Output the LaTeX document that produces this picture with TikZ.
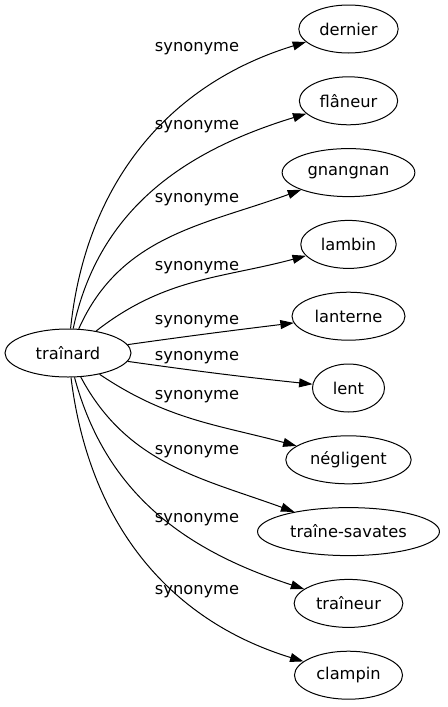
\documentclass[tikz,border=0pt]{standalone}
\usepackage{fontspec}
\setmainfont{DejaVu Sans}
\usetikzlibrary{shapes.geometric,arrows.meta,positioning}
\tikzset{>={Triangle[length=10pt,width=6.7pt]}}

\begin{document}
\begin{tikzpicture}[x=0.75pt,y=0.75pt,
    word/.style={draw,ellipse,line width=0.75pt,minimum width=54pt,minimum height=36pt,inner xsep=4.5pt,inner ysep=0pt,font=\fontsize{12.2}{14}\selectfont},
    syn/.style={inner sep=0pt,font=\fontsize{12.2}{14}\selectfont},
    link/.style={->,line width=0.75pt}]
  \useasboundingbox (0,0) rectangle (447,-707);
  \node [word,minimum width=94.5pt] (trainard) at (68,-353) {traînard};
  \node [word] (dernier) at (348.5,-29) {dernier};
  \node [word] (flaneur) at (348.5,-100.8) {flâneur};
  \node [word] (gnangnan) at (348.5,-172.6) {gnangnan};
  \node [word] (lambin) at (348.5,-244.4) {lambin};
  \node [word] (lanterne) at (348.5,-316.2) {lanterne};
  \node [word] (lent) at (348.5,-388) {lent};
  \node [word] (negligent) at (348.5,-459.8) {négligent};
  \node [word] (savates) at (348.5,-531.6) {traîne-savates};
  \node [word] (traineur) at (348.5,-603.4) {traîneur};
  \node [word] (clampin) at (348.5,-675.2) {clampin};
  % edge labels
  \node [syn] (s1) at (197,-49) {synonyme};
  \node [syn] (s2) at (197,-127) {synonyme};
  \node [syn] (s3) at (197,-200) {synonyme};
  \node [syn] (s4) at (197,-268) {synonyme};
  \node [syn] (s5) at (197,-322) {synonyme};
  \node [syn] (s6) at (197,-358) {synonyme};
  \node [syn] (s7) at (197,-397) {synonyme};
  \node [syn] (s8) at (197,-452) {synonyme};
  \node [syn] (s9) at (197,-520) {synonyme};
  \node [syn] (s10) at (197,-592) {synonyme};
  % edges
  \draw [link] (trainard) to[out=84,in=197] (dernier);
  \draw [link] (trainard) to[out=78,in=197] (flaneur);
  \draw [link] (trainard) to[out=66,in=200] (gnangnan);
  \draw [link] (trainard) to[out=38,in=195] (lambin);
  \draw [link] (trainard) to[out=8,in=187] (lanterne);
  \draw [link] (trainard) to[out=-8,in=174] (lent);
  \draw [link] (trainard) to[out=-34,in=165] (negligent);
  \draw [link] (trainard) to[out=-62,in=160] (savates);
  \draw [link] (trainard) to[out=-75,in=162] (traineur);
  \draw [link] (trainard) to[out=-83,in=163] (clampin);
\end{tikzpicture}
\end{document}
